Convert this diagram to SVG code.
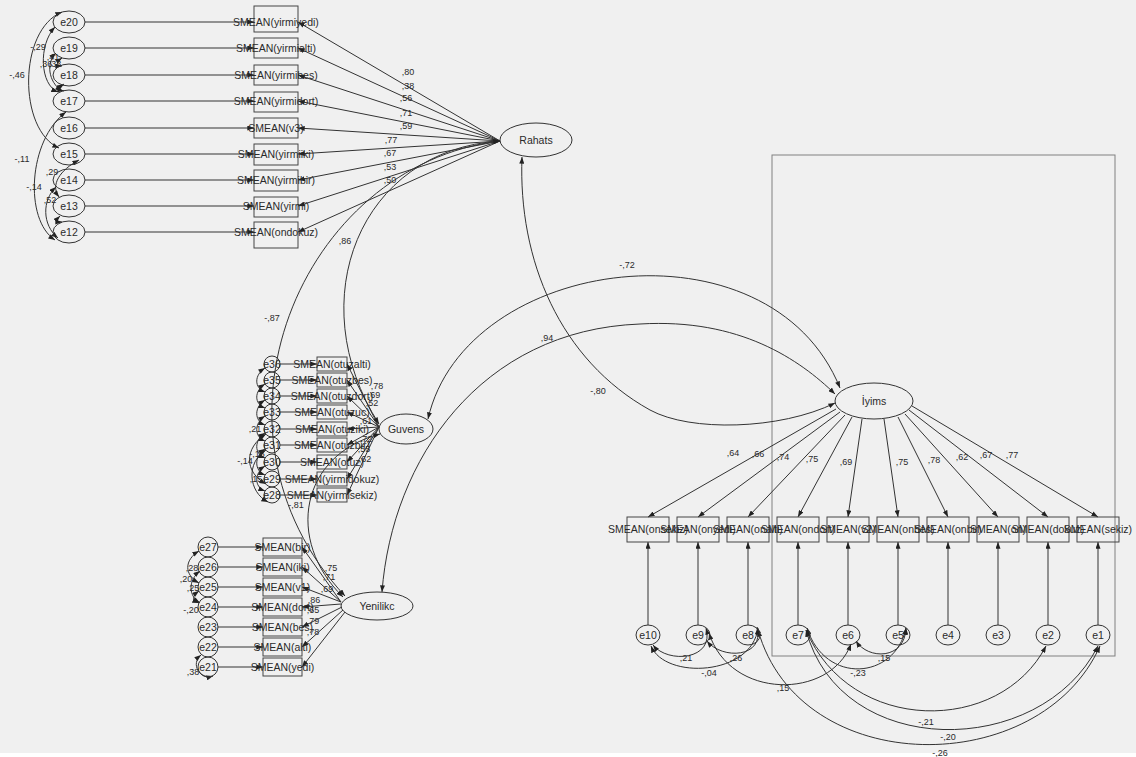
<svg xmlns="http://www.w3.org/2000/svg" width="1136" height="757" viewBox="0 0 1136 757">
<style>
.ln{stroke:#333;stroke-width:1;fill:none}
.ar{marker-end:url(#ah)}
.cv{marker-start:url(#ah);marker-end:url(#ah)}
.nd{fill:none;stroke:#333;stroke-width:1}
.bx{fill:none;stroke:#444;stroke-width:1}
.t{font-family:"Liberation Sans",Arial,sans-serif;font-size:10.5px;fill:#2a2a2a;text-anchor:middle}
.n{font-family:"Liberation Sans",Arial,sans-serif;font-size:9px;fill:#2a2a2a;text-anchor:middle}
</style>
<defs>
<marker id="ah" viewBox="0 0 8 6" refX="8" refY="3" markerWidth="7" markerHeight="5" orient="auto-start-reverse" markerUnits="userSpaceOnUse"><path d="M0,0 L8,3 L0,6 z" fill="#222"/></marker>
</defs>
<rect x="0" y="0" width="1136" height="757" fill="#ffffff"/>
<rect x="0" y="0" width="1136" height="753" fill="#f0f0f0"/>
<rect x="772" y="155" width="343" height="501" fill="none" stroke="#808080" stroke-width="1"/>

<g id="connectors">
  <!-- Rahats: error terms to indicators -->
  <line class="ln ar" x1="85" y1="22" x2="254" y2="22"/>
  <line class="ln ar" x1="85" y1="48" x2="254" y2="48"/>
  <line class="ln ar" x1="85" y1="75" x2="254" y2="75"/>
  <line class="ln ar" x1="85" y1="101" x2="254" y2="101"/>
  <line class="ln ar" x1="85" y1="128" x2="254" y2="128"/>
  <line class="ln ar" x1="85" y1="154" x2="254" y2="154"/>
  <line class="ln ar" x1="85" y1="180" x2="254" y2="180"/>
  <line class="ln ar" x1="85" y1="206" x2="254" y2="206"/>
  <line class="ln ar" x1="85" y1="232" x2="254" y2="232"/>
  <!-- Rahats loadings -->
  <line class="ln ar" x1="500" y1="141" x2="298" y2="22"/>
  <line class="ln ar" x1="500" y1="141" x2="298" y2="48"/>
  <line class="ln ar" x1="500" y1="141" x2="298" y2="75"/>
  <line class="ln ar" x1="500" y1="141" x2="298" y2="101"/>
  <line class="ln ar" x1="500" y1="141" x2="298" y2="128"/>
  <line class="ln ar" x1="500" y1="141" x2="298" y2="154"/>
  <line class="ln ar" x1="500" y1="141" x2="298" y2="180"/>
  <line class="ln ar" x1="500" y1="141" x2="298" y2="206"/>
  <line class="ln ar" x1="500" y1="141" x2="298" y2="232"/>
  <!-- Rahats error covariances -->
  <path class="ln cv" d="M62,12 C18,30 18,130 59,148"/>
  <path class="ln cv" d="M55,27 C38,45 40,85 58,92"/>
  <path class="ln cv" d="M56,53 C46,62 48,82 62,91"/>
  <path class="ln cv" d="M62,58 C56,62 56,66 62,66"/>
  <path class="ln cv" d="M64,84 C58,88 58,90 64,91"/>
  <path class="ln cv" d="M66,112 C28,140 24,220 55,240"/>
  <path class="ln cv" d="M79,160 C60,170 50,185 59,197"/>
  <path class="ln cv" d="M56,187 C42,200 42,225 58,238"/>
  <path class="ln cv" d="M60,216 C56,220 56,222 62,222"/>

  <!-- Guvens: error terms to indicators -->
  <line class="ln ar" x1="280" y1="364" x2="317" y2="364"/>
  <line class="ln ar" x1="280" y1="380" x2="317" y2="380"/>
  <line class="ln ar" x1="280" y1="396" x2="317" y2="396"/>
  <line class="ln ar" x1="280" y1="412" x2="317" y2="412"/>
  <line class="ln ar" x1="280" y1="429" x2="317" y2="429"/>
  <line class="ln ar" x1="280" y1="445" x2="317" y2="445"/>
  <line class="ln ar" x1="280" y1="462" x2="317" y2="462"/>
  <line class="ln ar" x1="280" y1="479" x2="317" y2="479"/>
  <line class="ln ar" x1="280" y1="495" x2="317" y2="495"/>
  <!-- Guvens loadings -->
  <line class="ln ar" x1="379" y1="427" x2="347" y2="364"/>
  <line class="ln ar" x1="379" y1="427" x2="347" y2="380"/>
  <line class="ln ar" x1="379" y1="427" x2="347" y2="396"/>
  <line class="ln ar" x1="379" y1="427" x2="347" y2="412"/>
  <line class="ln ar" x1="379" y1="427" x2="347" y2="429"/>
  <line class="ln ar" x1="379" y1="427" x2="347" y2="445"/>
  <line class="ln ar" x1="379" y1="427" x2="347" y2="462"/>
  <line class="ln ar" x1="379" y1="427" x2="347" y2="479"/>
  <line class="ln ar" x1="379" y1="427" x2="347" y2="495"/>
  <!-- Guvens error covariances -->
  <path class="ln cv" d="M265,368 C254,375 254,388 265,392"/>
  <path class="ln cv" d="M265,384 C254,391 254,404 265,408"/>
  <path class="ln cv" d="M265,400 C254,407 254,421 265,425"/>
  <path class="ln cv" d="M265,416 C254,423 254,437 265,441"/>
  <path class="ln cv" d="M265,433 C254,440 254,454 265,458"/>
  <path class="ln cv" d="M265,449 C254,456 254,471 265,475"/>
  <path class="ln cv" d="M265,466 C254,473 254,487 265,491"/>
  <path class="ln cv" d="M266,434 C244,448 244,472 266,484"/>
  <path class="ln cv" d="M266,450 C246,462 248,492 268,502"/>

  <!-- Yenilikc: error terms to indicators -->
  <line class="ln ar" x1="218" y1="547" x2="263" y2="547"/>
  <line class="ln ar" x1="218" y1="567" x2="263" y2="567"/>
  <line class="ln ar" x1="218" y1="587" x2="263" y2="587"/>
  <line class="ln ar" x1="218" y1="607" x2="263" y2="607"/>
  <line class="ln ar" x1="218" y1="627" x2="263" y2="627"/>
  <line class="ln ar" x1="218" y1="647" x2="263" y2="647"/>
  <line class="ln ar" x1="218" y1="667" x2="263" y2="667"/>
  <!-- Yenilikc loadings -->
  <line class="ln ar" x1="341" y1="602" x2="302" y2="547"/>
  <line class="ln ar" x1="341" y1="602" x2="302" y2="567"/>
  <line class="ln ar" x1="341" y1="602" x2="302" y2="587"/>
  <line class="ln ar" x1="341" y1="604" x2="302" y2="607"/>
  <line class="ln ar" x1="342" y1="607" x2="302" y2="627"/>
  <line class="ln ar" x1="343" y1="610" x2="302" y2="647"/>
  <line class="ln ar" x1="345" y1="612" x2="302" y2="667"/>
  <!-- Yenilikc error covariances -->
  <path class="ln cv" d="M199,551 C184,560 184,575 199,583"/>
  <path class="ln cv" d="M200,571 C188,580 188,596 200,603"/>
  <path class="ln cv" d="M199,591 C192,596 192,600 199,603"/>
  <path class="ln cv" d="M201,655 C190,664 200,680 213,676"/>

  <!-- İyims: error terms to indicators -->
  <line class="ln ar" x1="648" y1="625" x2="648" y2="542"/>
  <line class="ln ar" x1="698" y1="625" x2="698" y2="542"/>
  <line class="ln ar" x1="748" y1="625" x2="748" y2="542"/>
  <line class="ln ar" x1="798" y1="625" x2="798" y2="542"/>
  <line class="ln ar" x1="848" y1="625" x2="848" y2="542"/>
  <line class="ln ar" x1="898" y1="625" x2="898" y2="542"/>
  <line class="ln ar" x1="948" y1="625" x2="948" y2="542"/>
  <line class="ln ar" x1="998" y1="625" x2="998" y2="542"/>
  <line class="ln ar" x1="1048" y1="625" x2="1048" y2="542"/>
  <line class="ln ar" x1="1098" y1="625" x2="1098" y2="542"/>
  <!-- İyims loadings -->
  <line class="ln ar" x1="836" y1="409" x2="648" y2="517"/>
  <line class="ln ar" x1="840" y1="412" x2="698" y2="517"/>
  <line class="ln ar" x1="845" y1="415" x2="748" y2="517"/>
  <line class="ln ar" x1="852" y1="417" x2="798" y2="517"/>
  <line class="ln ar" x1="862" y1="419" x2="848" y2="517"/>
  <line class="ln ar" x1="884" y1="419" x2="898" y2="517"/>
  <line class="ln ar" x1="898" y1="417" x2="948" y2="517"/>
  <line class="ln ar" x1="905" y1="414" x2="998" y2="517"/>
  <line class="ln ar" x1="909" y1="410" x2="1048" y2="517"/>
  <line class="ln ar" x1="912" y1="406" x2="1098" y2="517"/>
  <!-- İyims error covariances -->
  <path class="ln cv" d="M653,645 C668,664 715,660 706,628"/>
  <path class="ln cv" d="M707,641 C722,660 765,658 757,627"/>
  <path class="ln cv" d="M651,646 C665,680 752,676 758,628"/>
  <path class="ln cv" d="M709,633 C730,700 830,700 851,644"/>
  <path class="ln cv" d="M856,641 C868,660 905,660 906,628"/>
  <path class="ln cv" d="M807,628 C825,685 895,680 906,628"/>
  <path class="ln cv" d="M806,630 C850,735 1000,735 1046,646"/>
  <path class="ln cv" d="M806,630 C840,760 1040,760 1098,646"/>
  <path class="ln cv" d="M758,630 C800,780 1040,780 1100,646"/>

  <!-- factor covariances -->
  <path class="ln cv" d="M500,141 C300,165 190,430 345,596"/>
  <path class="ln cv" d="M500,141 C360,150 300,300 379,424"/>
  <path class="ln cv" d="M380,434 C300,455 285,540 343,597"/>
  <path class="ln cv" d="M428,419 C465,255 770,215 840,388"/>
  <path class="ln cv" d="M382,592 C392,460 480,330 640,324 C740,318 800,360 835,394"/>
  <path class="ln cv" d="M522,157 C518,260 560,360 650,410 C690,432 780,430 835,403"/>
</g>

<!-- labels on paths -->
<g id="path-labels">
  <text class="n" x="408" y="75">,80</text>
  <text class="n" x="408" y="89">,38</text>
  <text class="n" x="406" y="101">,56</text>
  <text class="n" x="406" y="116">,71</text>
  <text class="n" x="406" y="129">,59</text>
  <text class="n" x="391" y="143">,77</text>
  <text class="n" x="390" y="156">,67</text>
  <text class="n" x="390" y="170">,53</text>
  <text class="n" x="390" y="183">,50</text>
  <text class="n" x="38" y="50">-,29</text>
  <text class="n" x="17" y="78">-,46</text>
  <text class="n" x="46" y="67">,36</text>
  <text class="n" x="55" y="67">,33</text>
  <text class="n" x="53" y="60">,41</text>
  <text class="n" x="22" y="162">-,11</text>
  <text class="n" x="52" y="175">,29</text>
  <text class="n" x="34" y="190">-,14</text>
  <text class="n" x="50" y="203">,52</text>

  <text class="n" x="377" y="389">,78</text>
  <text class="n" x="374" y="398">,69</text>
  <text class="n" x="372" y="406">,52</text>
  <text class="n" x="366" y="424">,61</text>
  <text class="n" x="366" y="442">,72</text>
  <text class="n" x="364" y="452">,55</text>
  <text class="n" x="365" y="462">,62</text>
  <text class="n" x="255" y="432">,21</text>
  <text class="n" x="257" y="457">-,15</text>
  <text class="n" x="245" y="464">-,14</text>
  <text class="n" x="256" y="482">,15</text>

  <text class="n" x="331" y="571">,75</text>
  <text class="n" x="329" y="580">,71</text>
  <text class="n" x="327" y="592">,69</text>
  <text class="n" x="314" y="603">,86</text>
  <text class="n" x="313" y="613">,65</text>
  <text class="n" x="313" y="624">,79</text>
  <text class="n" x="313" y="635">,78</text>
  <text class="n" x="192" y="571">,28</text>
  <text class="n" x="186" y="582">,20</text>
  <text class="n" x="193" y="591">,25</text>
  <text class="n" x="191" y="613">-,20</text>
  <text class="n" x="193" y="675">,38</text>

  <text class="n" x="733" y="456">,64</text>
  <text class="n" x="758" y="457">,66</text>
  <text class="n" x="783" y="460">,74</text>
  <text class="n" x="812" y="462">,75</text>
  <text class="n" x="846" y="465">,69</text>
  <text class="n" x="902" y="465">,75</text>
  <text class="n" x="934" y="463">,78</text>
  <text class="n" x="962" y="460">,62</text>
  <text class="n" x="986" y="458">,67</text>
  <text class="n" x="1012" y="458">,77</text>

  <text class="n" x="686" y="661">,21</text>
  <text class="n" x="736" y="661">,26</text>
  <text class="n" x="709" y="676">-,04</text>
  <text class="n" x="783" y="691">,15</text>
  <text class="n" x="884" y="661">,15</text>
  <text class="n" x="858" y="676">-,23</text>
  <text class="n" x="926" y="725">-,21</text>
  <text class="n" x="948" y="740">-,20</text>
  <text class="n" x="940" y="756">-,26</text>

  <text class="n" x="627" y="268">-,72</text>
  <text class="n" x="547" y="341">,94</text>
  <text class="n" x="598" y="394">-,80</text>
  <text class="n" x="272" y="321">-,87</text>
  <text class="n" x="345" y="244">,86</text>
  <text class="n" x="296" y="508">-,81</text>
</g>

<!-- latent factors -->
<g id="Rahats"><ellipse cx="536" cy="140" rx="36" ry="17" class="nd"/><text class="t" x="536" y="144">Rahats</text></g>
<g id="Guvens"><ellipse cx="406" cy="429" rx="27" ry="15" class="nd"/><text class="t" x="406" y="433">Guvens</text></g>
<g id="Yenilikc"><ellipse cx="377" cy="606" rx="36" ry="14" class="nd"/><text class="t" x="377" y="610">Yenilikc</text></g>
<g id="Iyims"><ellipse cx="874" cy="401" rx="39" ry="18" class="nd"/><text class="t" x="874" y="405">İyims</text></g>

<!-- Rahats indicators and errors -->
<g id="e20"><ellipse cx="69" cy="22" rx="16" ry="11" class="nd"/><text class="t" x="69" y="26">e20</text></g>
<g id="e19"><ellipse cx="69" cy="48" rx="16" ry="11" class="nd"/><text class="t" x="69" y="52">e19</text></g>
<g id="e18"><ellipse cx="69" cy="75" rx="16" ry="11" class="nd"/><text class="t" x="69" y="79">e18</text></g>
<g id="e17"><ellipse cx="69" cy="101" rx="16" ry="11" class="nd"/><text class="t" x="69" y="105">e17</text></g>
<g id="e16"><ellipse cx="69" cy="128" rx="16" ry="11" class="nd"/><text class="t" x="69" y="132">e16</text></g>
<g id="e15"><ellipse cx="69" cy="154" rx="16" ry="11" class="nd"/><text class="t" x="69" y="158">e15</text></g>
<g id="e14"><ellipse cx="69" cy="180" rx="16" ry="11" class="nd"/><text class="t" x="69" y="184">e14</text></g>
<g id="e13"><ellipse cx="69" cy="206" rx="16" ry="11" class="nd"/><text class="t" x="69" y="210">e13</text></g>
<g id="e12"><ellipse cx="69" cy="232" rx="16" ry="11" class="nd"/><text class="t" x="69" y="236">e12</text></g>
<g id="yirmiyedi"><rect class="bx" x="254" y="6" width="44" height="26"/><text class="t" x="276" y="26">SMEAN(yirmiyedi)</text></g>
<g id="yirmialti"><rect class="bx" x="254" y="38" width="44" height="20"/><text class="t" x="276" y="52">SMEAN(yirmialti)</text></g>
<g id="yirmibes"><rect class="bx" x="254" y="65" width="44" height="20"/><text class="t" x="276" y="79">SMEAN(yirmibes)</text></g>
<g id="yirmidort"><rect class="bx" x="254" y="92" width="44" height="20"/><text class="t" x="276" y="105">SMEAN(yirmidort)</text></g>
<g id="v3"><rect class="bx" x="254" y="118" width="44" height="20"/><text class="t" x="276" y="132">SMEAN(v3)</text></g>
<g id="yirmiiki"><rect class="bx" x="254" y="144" width="44" height="21"/><text class="t" x="276" y="158">SMEAN(yirmiiki)</text></g>
<g id="yirmibir"><rect class="bx" x="254" y="170" width="44" height="21"/><text class="t" x="276" y="184">SMEAN(yirmibir)</text></g>
<g id="yirmi"><rect class="bx" x="254" y="197" width="44" height="20"/><text class="t" x="276" y="210">SMEAN(yirmi)</text></g>
<g id="ondokuz"><rect class="bx" x="254" y="222" width="44" height="26"/><text class="t" x="276" y="236">SMEAN(ondokuz)</text></g>

<!-- Guvens indicators and errors -->
<g id="e36"><circle cx="272" cy="364" r="8" class="nd"/><text class="t" x="272" y="368">e36</text></g>
<g id="e35"><circle cx="272" cy="380" r="8" class="nd"/><text class="t" x="272" y="384">e35</text></g>
<g id="e34"><circle cx="272" cy="396" r="8" class="nd"/><text class="t" x="272" y="400">e34</text></g>
<g id="e33"><circle cx="272" cy="412" r="8" class="nd"/><text class="t" x="272" y="416">e33</text></g>
<g id="e32"><circle cx="272" cy="429" r="8" class="nd"/><text class="t" x="272" y="433">e32</text></g>
<g id="e31"><circle cx="272" cy="445" r="8" class="nd"/><text class="t" x="272" y="449">e31</text></g>
<g id="e30"><circle cx="272" cy="462" r="8" class="nd"/><text class="t" x="272" y="466">e30</text></g>
<g id="e29"><circle cx="272" cy="479" r="8" class="nd"/><text class="t" x="272" y="483">e29</text></g>
<g id="e28"><circle cx="272" cy="495" r="8" class="nd"/><text class="t" x="272" y="499">e28</text></g>
<g id="otuzalti"><rect class="bx" x="317" y="357" width="30" height="14"/><text class="t" x="332" y="368">SMEAN(otuzalti)</text></g>
<g id="otuzbes"><rect class="bx" x="317" y="373" width="30" height="14"/><text class="t" x="332" y="384">SMEAN(otuzbes)</text></g>
<g id="otuzdort"><rect class="bx" x="317" y="389" width="30" height="14"/><text class="t" x="332" y="400">SMEAN(otuzdort)</text></g>
<g id="otuzuc"><rect class="bx" x="317" y="405" width="30" height="14"/><text class="t" x="332" y="416">SMEAN(otuzuc)</text></g>
<g id="otuziki"><rect class="bx" x="317" y="422" width="30" height="14"/><text class="t" x="332" y="433">SMEAN(otuziki)</text></g>
<g id="otuzbir"><rect class="bx" x="317" y="438" width="30" height="14"/><text class="t" x="332" y="449">SMEAN(otuzbir)</text></g>
<g id="otuz"><rect class="bx" x="317" y="455" width="30" height="14"/><text class="t" x="332" y="466">SMEAN(otuz)</text></g>
<g id="yirmidokuz"><rect class="bx" x="317" y="472" width="30" height="14"/><text class="t" x="332" y="483">SMEAN(yirmidokuz)</text></g>
<g id="yirmisekiz"><rect class="bx" x="317" y="488" width="30" height="14"/><text class="t" x="332" y="499">SMEAN(yirmisekiz)</text></g>

<!-- Yenilikc indicators and errors -->
<g id="e27"><circle cx="208" cy="547" r="10" class="nd"/><text class="t" x="208" y="551">e27</text></g>
<g id="e26"><circle cx="208" cy="567" r="10" class="nd"/><text class="t" x="208" y="571">e26</text></g>
<g id="e25"><circle cx="208" cy="587" r="10" class="nd"/><text class="t" x="208" y="591">e25</text></g>
<g id="e24"><circle cx="208" cy="607" r="10" class="nd"/><text class="t" x="208" y="611">e24</text></g>
<g id="e23"><circle cx="208" cy="627" r="10" class="nd"/><text class="t" x="208" y="631">e23</text></g>
<g id="e22"><circle cx="208" cy="647" r="10" class="nd"/><text class="t" x="208" y="651">e22</text></g>
<g id="e21"><circle cx="208" cy="667" r="10" class="nd"/><text class="t" x="208" y="671">e21</text></g>
<g id="bir"><rect class="bx" x="263" y="538" width="39" height="18"/><text class="t" x="282.5" y="551">SMEAN(bir)</text></g>
<g id="iki"><rect class="bx" x="263" y="558" width="39" height="18"/><text class="t" x="282.5" y="571">SMEAN(iki)</text></g>
<g id="v1"><rect class="bx" x="263" y="578" width="39" height="18"/><text class="t" x="282.5" y="591">SMEAN(v1)</text></g>
<g id="dort"><rect class="bx" x="263" y="598" width="39" height="18"/><text class="t" x="282.5" y="611">SMEAN(dort)</text></g>
<g id="bes"><rect class="bx" x="263" y="618" width="39" height="18"/><text class="t" x="282.5" y="631">SMEAN(bes)</text></g>
<g id="alti"><rect class="bx" x="263" y="638" width="39" height="18"/><text class="t" x="282.5" y="651">SMEAN(alti)</text></g>
<g id="yedi"><rect class="bx" x="263" y="658" width="39" height="18"/><text class="t" x="282.5" y="671">SMEAN(yedi)</text></g>

<!-- İyims indicators and errors -->
<g id="onsekiz"><rect class="bx" x="627" y="517" width="42" height="25"/><text class="t" x="648" y="533">SMEAN(onsekiz)</text></g>
<g id="onyedi"><rect class="bx" x="677" y="517" width="42" height="25"/><text class="t" x="698" y="533">SMEAN(onyedi)</text></g>
<g id="onalti"><rect class="bx" x="727" y="517" width="42" height="25"/><text class="t" x="748" y="533">SMEAN(onalti)</text></g>
<g id="ondort"><rect class="bx" x="777" y="517" width="42" height="25"/><text class="t" x="798" y="533">SMEAN(ondort)</text></g>
<g id="v2"><rect class="bx" x="827" y="517" width="42" height="25"/><text class="t" x="848" y="533">SMEAN(v2)</text></g>
<g id="onbes"><rect class="bx" x="877" y="517" width="42" height="25"/><text class="t" x="898" y="533">SMEAN(onbes)</text></g>
<g id="onbir"><rect class="bx" x="927" y="517" width="42" height="25"/><text class="t" x="948" y="533">SMEAN(onbir)</text></g>
<g id="on"><rect class="bx" x="977" y="517" width="42" height="25"/><text class="t" x="998" y="533">SMEAN(on)</text></g>
<g id="dokuz"><rect class="bx" x="1027" y="517" width="42" height="25"/><text class="t" x="1048" y="533">SMEAN(dokuz)</text></g>
<g id="sekiz"><rect class="bx" x="1077" y="517" width="42" height="25"/><text class="t" x="1098" y="533">SMEAN(sekiz)</text></g>
<g id="e10"><ellipse cx="648" cy="635" rx="12" ry="10" class="nd"/><text class="t" x="648" y="639">e10</text></g>
<g id="e9"><ellipse cx="698" cy="635" rx="12" ry="10" class="nd"/><text class="t" x="698" y="639">e9</text></g>
<g id="e8"><ellipse cx="748" cy="635" rx="12" ry="10" class="nd"/><text class="t" x="748" y="639">e8</text></g>
<g id="e7"><ellipse cx="798" cy="635" rx="12" ry="10" class="nd"/><text class="t" x="798" y="639">e7</text></g>
<g id="e6"><ellipse cx="848" cy="635" rx="12" ry="10" class="nd"/><text class="t" x="848" y="639">e6</text></g>
<g id="e5"><ellipse cx="898" cy="635" rx="12" ry="10" class="nd"/><text class="t" x="898" y="639">e5</text></g>
<g id="e4"><ellipse cx="948" cy="635" rx="12" ry="10" class="nd"/><text class="t" x="948" y="639">e4</text></g>
<g id="e3"><ellipse cx="998" cy="635" rx="12" ry="10" class="nd"/><text class="t" x="998" y="639">e3</text></g>
<g id="e2"><ellipse cx="1048" cy="635" rx="12" ry="10" class="nd"/><text class="t" x="1048" y="639">e2</text></g>
<g id="e1"><ellipse cx="1098" cy="635" rx="12" ry="10" class="nd"/><text class="t" x="1098" y="639">e1</text></g>
</svg>
